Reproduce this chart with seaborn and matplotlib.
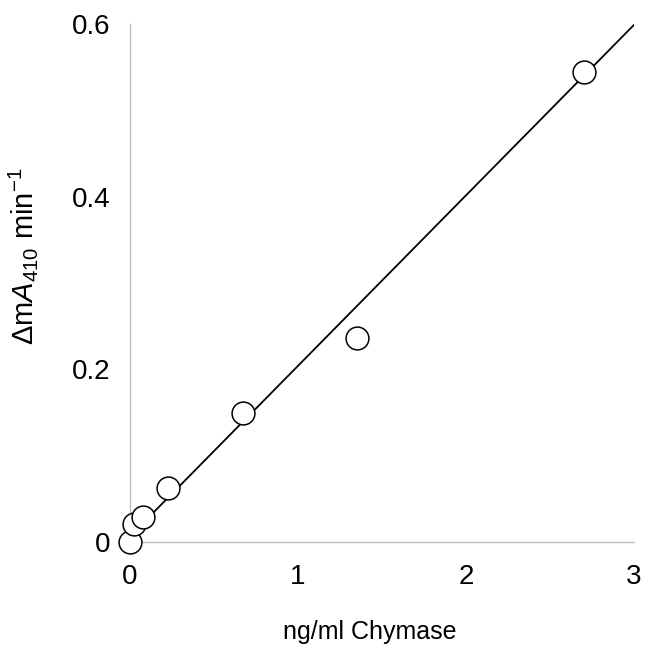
import matplotlib
matplotlib.use("Agg")
import matplotlib.pyplot as plt
import seaborn as sns
import pandas as pd

# chymase concentration (ng/ml) and rate (dmA410/min)
chymase = [0.0, 0.025, 0.075, 0.225, 0.675, 1.35, 2.7]
rate = [0.0, 0.021, 0.029, 0.0625, 0.149, 0.236, 0.5445]

# fitted line end points
fit_x = [0.0, 3.0]
fit_y = [0.0066, 0.599]

x_ticks = [0, 1, 2, 3]
y_ticks = [0, 0.2, 0.4, 0.6]
y_tick_labels = ["0", "0.2", "0.4", "0.6"]

sns.set_style("white")
plt.rcParams["font.family"] = ["Liberation Sans", "DejaVu Sans"]
plt.rcParams["mathtext.fontset"] = "custom"
plt.rcParams["mathtext.rm"] = "Liberation Sans"
plt.rcParams["mathtext.it"] = "Liberation Sans:italic"
plt.rcParams["text.color"] = "black"
plt.rcParams["axes.labelcolor"] = "black"

df = pd.DataFrame({"chymase": chymase, "rate": rate})

fig = plt.figure(figsize=(6.49, 6.55), dpi=100)
ax = fig.add_axes([130 / 649, 1 - 542 / 655, 504 / 649, 518 / 655])

sns.lineplot(x=fit_x, y=fit_y, ax=ax, color="black", linewidth=1.3, zorder=2)
sns.scatterplot(data=df, x="chymase", y="rate", ax=ax, s=270, marker="o",
                facecolor="white", edgecolor="black", linewidth=1.1, zorder=3,
                clip_on=False)

ax.set_xlim(0, 3)
ax.set_ylim(0, 0.6)
ax.set_xticks(x_ticks)
ax.set_yticks(y_ticks)
ax.set_yticklabels(y_tick_labels)

for side in ["top", "right"]:
    ax.spines[side].set_visible(False)
for side in ["left", "bottom"]:
    ax.spines[side].set_color("#bdbdbd")
    ax.spines[side].set_linewidth(1.0)

ax.tick_params(axis="both", labelsize=20, colors="#bdbdbd", labelcolor="black",
               length=5, width=1.0)
ax.tick_params(axis="x", direction="inout", pad=13)
ax.tick_params(axis="y", direction="out", pad=9)

ax.set_xlabel("ng/ml Chymase", fontsize=18, color="black")
ax.set_ylabel(r"$\Delta$m$\mathit{A}_{410}$ min$^{-1}$", fontsize=21, color="black")
ax.xaxis.set_label_coords((370 - 130) / 504, -(620 - 542) / 518)
ax.yaxis.set_label_coords(-(130 - 40) / 504, (542 - 256) / 518)

fig.savefig("out.png", dpi=100)
